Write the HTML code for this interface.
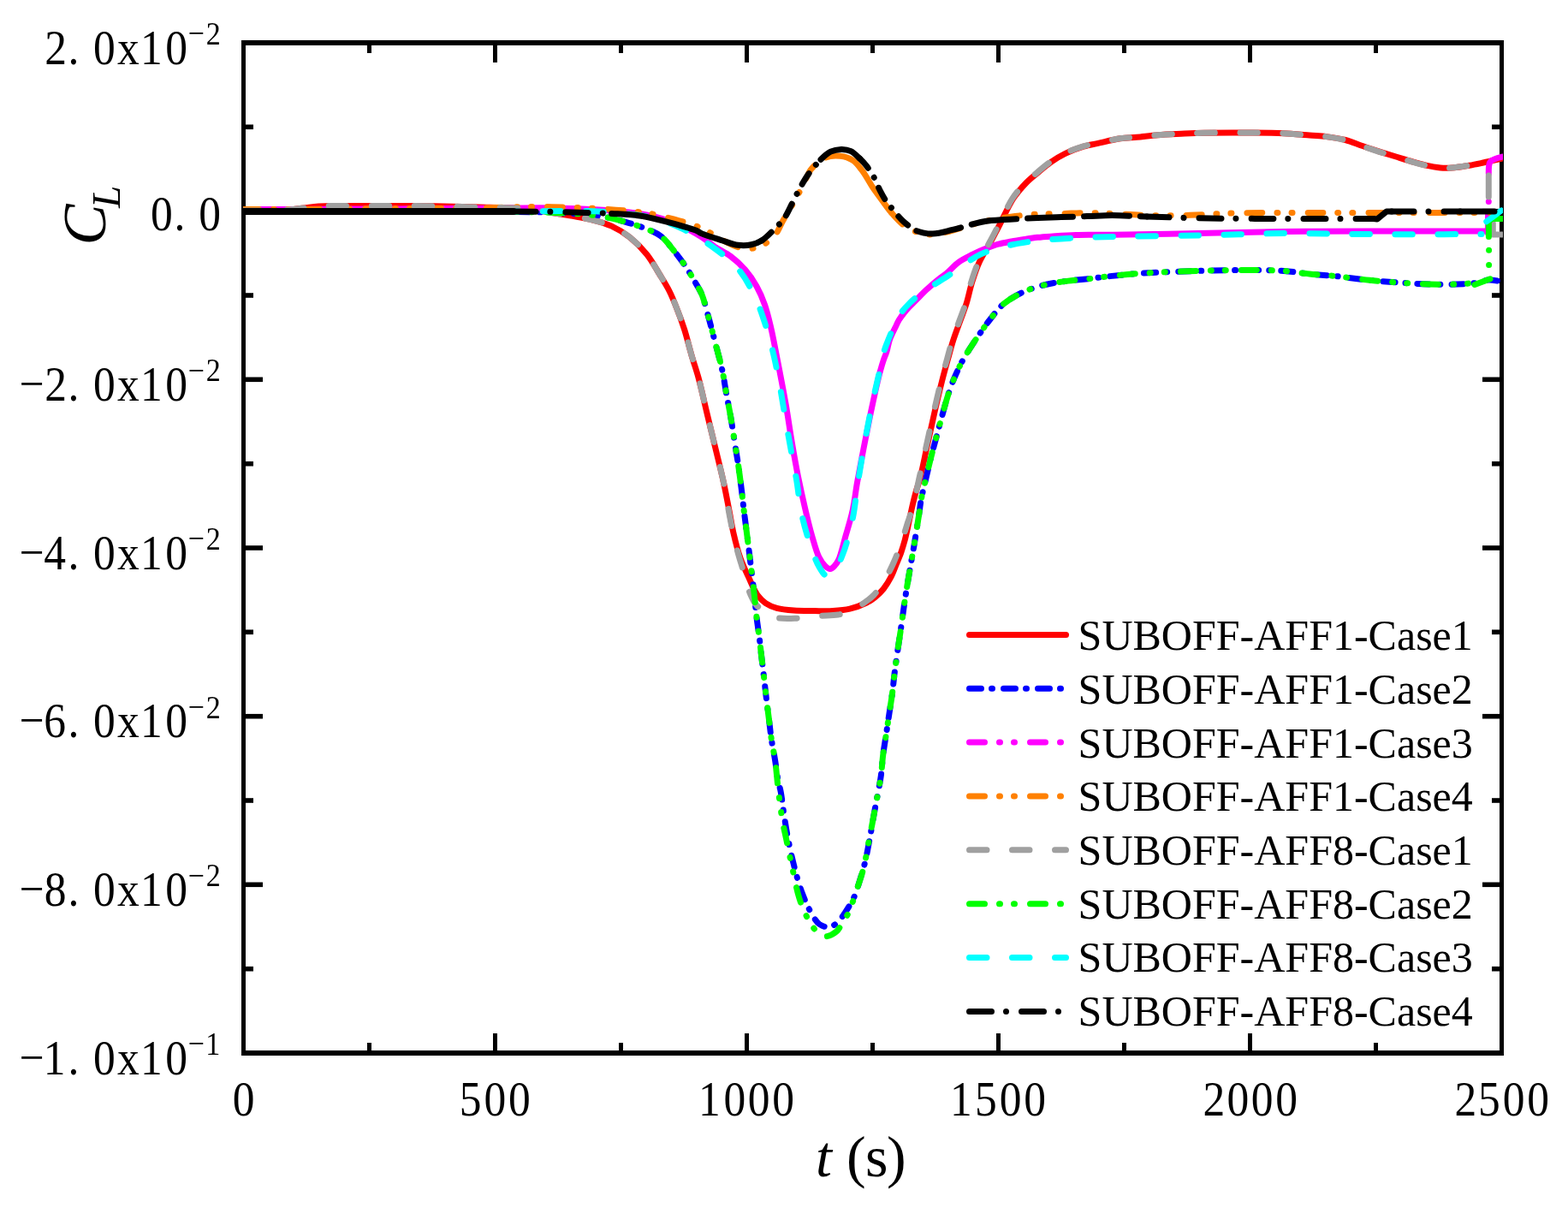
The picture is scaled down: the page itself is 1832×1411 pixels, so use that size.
<!DOCTYPE html><html><head><meta charset="utf-8"><title>C_L vs t</title><style>html,body{margin:0;padding:0;background:#fff;}svg{display:block}</style></head><body>
<svg width="1832" height="1411" viewBox="0 0 1832 1411">
<rect width="1832" height="1411" fill="#fff"/>
<defs><clipPath id="pa"><rect x="284" y="53" width="1472" height="1174"/></clipPath></defs>
<g fill="#000">
<rect x="282" y="47" width="1475" height="6"/>
<rect x="282" y="1227" width="1475" height="6"/>
<rect x="282" y="47" width="5" height="1186"/>
<rect x="1752" y="47" width="5" height="1186"/>
<rect x="287" y="47.2" width="20" height="5.6"/>
<rect x="1732" y="47.2" width="20" height="5.6"/>
<rect x="287" y="145.5" width="9" height="5.6"/>
<rect x="1743" y="145.5" width="9" height="5.6"/>
<rect x="287" y="243.9" width="20" height="5.6"/>
<rect x="1732" y="243.9" width="20" height="5.6"/>
<rect x="287" y="342.2" width="9" height="5.6"/>
<rect x="1743" y="342.2" width="9" height="5.6"/>
<rect x="287" y="440.5" width="20" height="5.6"/>
<rect x="1732" y="440.5" width="20" height="5.6"/>
<rect x="287" y="538.9" width="9" height="5.6"/>
<rect x="1743" y="538.9" width="9" height="5.6"/>
<rect x="287" y="637.2" width="20" height="5.6"/>
<rect x="1732" y="637.2" width="20" height="5.6"/>
<rect x="287" y="735.5" width="9" height="5.6"/>
<rect x="1743" y="735.5" width="9" height="5.6"/>
<rect x="287" y="833.9" width="20" height="5.6"/>
<rect x="1732" y="833.9" width="20" height="5.6"/>
<rect x="287" y="932.2" width="9" height="5.6"/>
<rect x="1743" y="932.2" width="9" height="5.6"/>
<rect x="287" y="1030.5" width="20" height="5.6"/>
<rect x="1732" y="1030.5" width="20" height="5.6"/>
<rect x="287" y="1128.9" width="9" height="5.6"/>
<rect x="1743" y="1128.9" width="9" height="5.6"/>
<rect x="287" y="1227.2" width="20" height="5.6"/>
<rect x="1732" y="1227.2" width="20" height="5.6"/>
<rect x="282" y="1207" width="5" height="20"/>
<rect x="282" y="53" width="5" height="20"/>
<rect x="429" y="1218" width="5" height="9"/>
<rect x="429" y="53" width="5" height="9"/>
<rect x="576" y="1207" width="5" height="20"/>
<rect x="576" y="53" width="5" height="20"/>
<rect x="723" y="1218" width="5" height="9"/>
<rect x="723" y="53" width="5" height="9"/>
<rect x="870" y="1207" width="5" height="20"/>
<rect x="870" y="53" width="5" height="20"/>
<rect x="1017" y="1218" width="5" height="9"/>
<rect x="1017" y="53" width="5" height="9"/>
<rect x="1164" y="1207" width="5" height="20"/>
<rect x="1164" y="53" width="5" height="20"/>
<rect x="1311" y="1218" width="5" height="9"/>
<rect x="1311" y="53" width="5" height="9"/>
<rect x="1458" y="1207" width="5" height="20"/>
<rect x="1458" y="53" width="5" height="20"/>
<rect x="1605" y="1218" width="5" height="9"/>
<rect x="1605" y="53" width="5" height="9"/>
<rect x="1752" y="1207" width="5" height="20"/>
<rect x="1752" y="53" width="5" height="20"/>
</g>
<g clip-path="url(#pa)" fill="none" stroke-width="7" stroke-linecap="round" stroke-linejoin="round">
<path d="M284.5 246C299.7 245.8 317.1 246.2 330 245.5C339.6 245 347.5 243.8 355 243C361.2 242.3 365.6 241.4 372 241C380.2 240.4 389.8 240.6 400 240.5C412.1 240.4 426.7 240.5 440 240.5C453.3 240.5 466.7 240.4 480 240.5C493.3 240.6 506.7 240.8 520 241C533.3 241.3 546.7 241.7 560 242C573.3 242.3 588.2 242.3 600 243C609.3 243.6 616.7 244.5 625 245.5C633.3 246.6 640.6 247.7 650 249.3C662.1 251.3 680 253.9 691.7 256.8C700.6 259 707.3 260.8 714.6 264.2C722 267.6 729.2 272 735.9 277.3C742.9 282.9 749.8 289.9 755.6 297C761.3 304.1 765.8 312.5 770.3 319.9C774.4 326.6 778.3 332.6 781.8 339.5C785.5 346.7 788.6 354.8 791.6 362.5C794.6 370.1 797.2 377.2 799.8 385.4C802.7 394.6 805.2 405.4 808 414.9C810.6 423.9 813.3 431.3 816 441C819.3 453.1 822.5 468.3 825.8 481.9C829.1 495.5 832.4 509.2 835.7 522.8C839 536.4 842.7 550.8 845.5 563.7C848 575.2 850 586.2 852 596.5C853.8 605.7 854.9 613.8 857 622.7C859.2 632.3 861.9 643.1 865.1 652.2C868 660.4 871.6 667.8 875 675.1C878.2 682 881.1 689.6 884.8 694.8C887.8 698.9 890.8 702 894.6 704.6C898.4 707.2 902.8 709 907.7 710.4C913.5 712 920.5 712.6 927.4 713.1C935.1 713.7 944 713.5 951.9 713.6C959.2 713.7 966.3 714 973.2 713.6C979.9 713.2 986.4 712.8 992.9 711.2C999.5 709.6 1007.2 706.6 1012.5 704C1016.4 702.1 1018.9 700.5 1022 698C1025.6 695.1 1029.4 691.5 1032.5 687.5C1035.8 683.3 1038.8 678.2 1041.3 673.4C1043.7 668.8 1045.3 663.9 1047.2 659.2C1049.1 654.5 1051.2 649.8 1052.9 645C1054.5 640.3 1055.9 635.6 1057.2 630.9C1058.5 626.2 1059.4 621.4 1060.5 616.7C1061.5 612 1062.5 607.2 1063.5 602.5C1064.5 597.8 1065.5 593 1066.6 588.3C1067.7 583.6 1068.9 578.9 1070.2 574.2C1071.6 569.3 1073.2 565.5 1074.8 559.3C1077.4 549.4 1080.5 533.3 1083.4 520.3C1086.3 507.3 1089.1 494 1092 481.3C1094.8 469.1 1097.7 456.5 1100.5 445.5C1102.9 436 1105.3 427.4 1107.6 419.1C1109.7 411.6 1111.3 404.9 1113.6 397.8C1115.9 390.7 1118.6 383.6 1121.2 376.5C1123.7 369.4 1126.5 362.8 1128.9 355.3C1131.5 347.1 1133.2 337.4 1135.9 329C1138.4 321 1140.8 313.5 1144.3 306C1147.9 298.2 1153.2 290.3 1157.2 283C1160.8 276.4 1163.4 271.2 1167.2 264C1172.1 254.7 1178.1 240.7 1184 231.7C1188.7 224.5 1193.8 218.9 1198.8 213.7C1203.1 209.2 1207.2 206.1 1211.9 202.2C1217 197.9 1222.6 193 1228.2 189.1C1233.5 185.4 1238.6 182.2 1244.6 179.3C1251.1 176.1 1259.2 173.1 1265.9 171.1C1271.5 169.4 1275.8 168.9 1281.8 167.6C1289.7 165.9 1300.8 163 1309.1 161.8C1316 160.8 1321.4 160.8 1328.2 160.2C1335.9 159.5 1344.4 158.3 1352.8 157.7C1361.6 157 1370.9 156.7 1380 156.3C1389 155.9 1396.8 155.5 1407 155.3C1420.5 155 1438.4 154.9 1454 155C1469.4 155.1 1486.3 155 1500 155.7C1511.1 156.2 1521 157.4 1530 158.1C1537.3 158.7 1543.2 158.7 1550 159.6C1557.2 160.5 1564.9 161.6 1572 163.5C1578.9 165.3 1585.4 168.3 1592 170.5C1598.4 172.7 1604.6 174.7 1611 176.8C1617.6 178.9 1624.2 180.9 1631 183C1637.9 185.1 1645.3 187.4 1652 189.3C1658.2 191 1664.1 192.7 1670 193.9C1675.5 195 1680.7 196 1686 196.3C1691.2 196.6 1696.3 196 1701.5 195.5C1706.7 195 1711.8 194.1 1717 193.2C1722.3 192.3 1727.3 191.2 1733 190C1739.8 188.6 1747.7 186.7 1755 185" stroke="#FF0000"/>
<path d="M284.5 247C323 247 362.9 247 400 247C434.5 247 466.7 246.9 500 247C533.3 247.1 572.4 247.2 600 247.5C619.5 247.7 633.5 247.7 650 248.5C666.2 249.3 683.7 249.9 698.2 252C710.3 253.8 720.9 256.5 731 259.3C739.9 261.8 748.3 264.5 755.6 267.5C761.7 270 767 271.9 772 275.7C777.5 279.9 781.9 286.2 786.7 292C791.7 298.1 797.1 305.3 801.4 311.7C805.2 317.3 808.1 322.6 811.2 328C814.3 333.3 817.5 337.9 820 344C823 351.3 824.9 360.2 827.4 369C830.2 378.9 833 390 835.7 400.6C838.5 411.3 841.7 422.3 843.9 432.7C846 442.3 847.1 451.5 848.8 460.6C850.4 469.5 852.1 477.7 853.7 486.8C855.4 496.7 857 508 858.6 517.9C860 527 861.5 535.5 862.7 544.1C863.9 552.4 864.9 560.2 866 568.7C867.1 577.7 868 586.4 869.2 596.5C870.7 608.5 872.6 623.3 874.2 635.8C875.6 647.2 876.9 658.1 878.2 668.6C879.4 678.2 880.5 687.4 881.5 696.4C882.4 704.8 883 712.8 884 721C885 729.2 886.3 737.7 887.3 745.6C888.2 752.9 888.9 759.9 889.7 766.8C890.5 773.4 891.2 778.9 892 786C893 794.9 894.3 806.6 895.4 816C896.4 824.4 897.4 832 898.4 840C899.4 848 900.2 856 901.4 864C902.6 872 904.3 880.1 905.6 888.1C906.9 896.1 907.9 905.3 909.2 912.1C910.2 917.2 911.3 920.1 912.3 925.4C913.7 933 914.8 944.1 916.3 953.7C917.9 963.8 919.6 974.4 921.7 984.6C923.7 994.6 926 1004.6 928.5 1014.2C930.9 1023.4 933.2 1032.3 936.5 1041.2C939.9 1050.3 944.6 1061.2 948.7 1068.1C951.6 1072.9 954 1077 957.4 1079.5C960.4 1081.6 964.2 1083 967.5 1082.9C970.7 1082.8 974 1081.2 977 1078.9C980.9 1076 984.3 1070.4 987.7 1065.4C991.5 1059.8 995.7 1052.7 998.5 1046.5C1000.9 1041 1002.1 1036.3 1003.9 1030.4C1006.1 1023.5 1008.6 1015.5 1010.6 1007.5C1012.7 998.9 1014.3 989.6 1016 980.6C1017.7 971.6 1019.1 962.6 1020.7 953.7C1022.2 945.1 1023.9 936.3 1025.4 928.1C1026.8 920.5 1028.3 913.6 1029.3 906.1C1030.4 898.3 1030.7 890.1 1031.7 882.1C1032.7 874.1 1034.1 866.1 1035.3 858.1C1036.5 850.1 1037.7 842 1038.9 834C1040.1 826 1041.4 818.2 1042.5 810C1043.6 801.4 1044.4 792 1045.5 783.6C1046.5 776 1047.4 769.6 1048.5 761.9C1049.7 753.2 1051.3 743.5 1052.6 734.1C1054 724.4 1055.2 714.9 1056.7 704.6C1058.4 693.2 1060.5 680.3 1062.5 668.6C1064.4 657.4 1066.3 647 1068.2 635.8C1070.1 624.1 1072.4 609.6 1073.9 599.8C1074.9 593 1075.2 588.7 1076.4 582.6C1077.8 575.4 1080 567.1 1081.8 559.3C1083.6 551.5 1085.4 543.7 1087.3 535.9C1089.3 528.1 1091.4 520.3 1093.5 512.5C1095.6 504.7 1097.6 497 1099.8 489.1C1102.1 480.9 1104.3 472.2 1106.8 464.2C1109.2 456.6 1111.6 449.5 1114.6 442.4C1117.5 435.3 1121 428 1124.5 421.5C1127.8 415.5 1131.3 410.1 1134.8 404.6C1138.2 399.3 1141.5 394.4 1145 389.3C1148.6 384.2 1152 379.2 1156.1 374C1160.8 368.1 1165.7 360.9 1171.9 355.6C1178.5 350 1186.7 345.2 1194.9 341.4C1203.2 337.5 1212.5 334.7 1221.5 332.5C1230.3 330.3 1239.2 329.3 1248.1 328.1C1256.9 326.9 1267.1 326.3 1274.7 325.4C1280.5 324.7 1283.7 324.1 1290 323.4C1300.2 322.2 1314.8 320.6 1330 319.5C1350.1 318.1 1378.6 317 1400 316.4C1418.1 315.9 1433.3 315.6 1450 315.6C1466.7 315.6 1485.5 315.4 1500 316.4C1511.3 317.2 1519.9 319 1530 320C1540.2 321 1550.1 321.5 1561 322.6C1573.3 323.9 1587 326 1600 327.3C1613 328.6 1626.7 329.6 1639 330.4C1649.9 331.1 1659.6 331.7 1670 332C1680.5 332.3 1691.8 332.3 1701.5 332C1709.9 331.7 1718.2 331.4 1725 330.4C1730.3 329.6 1734.1 327.3 1739 327C1744.1 326.7 1749.7 328.2 1755 328.8" stroke="#0000FF" stroke-dasharray="14 12 1 13"/>
<path d="M284.5 244.5C303 244.5 321.1 244.6 340 244.5C359.6 244.4 380 244.1 400 244C420 243.9 440 244.1 460 244C480 243.9 498.6 243.7 520 243.5C544.8 243.3 576.5 243.1 600 243C618.6 242.9 633.3 242.7 650 243C666.7 243.3 685.5 244.1 700 245C711.3 245.7 719.7 246.3 730 247.5C740.9 248.8 752.7 249.9 763.7 252.7C774.8 255.5 786.6 259.8 796.5 264.2C805.2 268 813.1 272.6 820 277C825.9 280.8 830.2 284.9 835.7 288.6C841.4 292.4 848 295.1 853.7 299.4C859.7 303.9 865.6 309.3 870.6 315.1C875.7 320.9 880.1 327.5 883.9 334.3C887.7 341.1 890.8 348.3 893.5 356C896.4 364.3 898.4 372.9 900.7 382.5C903.3 393.6 905.4 405.4 908 418.7C911.2 435.1 915.4 456.7 918.4 473.7C920.9 488.3 922.6 501 924.9 514.6C927.2 528.3 929.6 542.2 932.3 555.6C934.9 568.5 937.7 581.2 940.5 593.3C943.1 604.6 945.8 615.9 948.7 626C951.3 634.8 953.7 644.3 956.8 650.6C959 655 961.4 658.6 964 661C965.9 662.8 968.1 664.6 970 664.5C971.8 664.4 973.5 662.5 975 661C976.8 659.2 978.2 657.2 979.8 653.9C982.7 647.8 985.3 635.4 988 626C990.8 616.3 993.9 606.7 996.1 596.5C998.4 585.9 999.5 575.2 1001.5 563.7C1003.8 550.8 1006.6 536.4 1009.2 522.8C1011.9 509.2 1014.5 495.8 1017.4 481.9C1020.5 467.4 1024.3 449.3 1027.3 437.7C1029.3 430.1 1031.1 424 1032.8 419.1C1033.9 415.8 1034.9 414.1 1035.9 411C1037.2 407 1037.8 401.6 1039.4 397C1041.1 392.1 1044 386.7 1046 382.5C1047.6 379.2 1048.7 376.5 1050.3 373.8C1051.9 371.2 1053.6 368.9 1055.5 366.5C1057.5 364 1059.8 361.4 1062 359C1064.2 356.6 1066.5 354.3 1068.6 352.2C1070.4 350.4 1071.7 349.1 1073.6 347.2C1075.9 344.9 1078.9 341.8 1081.5 339.3C1083.9 337 1086.1 335.1 1088.6 332.9C1091.3 330.6 1094.3 328.1 1097.2 325.8C1100 323.6 1102.5 322 1105.7 319.4C1110 315.8 1115.4 309.6 1120.6 305.9C1125.5 302.4 1130.8 300 1135.9 297.4C1140.9 294.9 1146 292.6 1151.1 290.6C1156.2 288.6 1161.3 286.6 1166.4 285.2C1171.5 283.8 1176.6 283 1181.7 282C1186.8 281.1 1191.9 280.3 1197 279.5C1202.1 278.7 1207 277.9 1212.3 277.3C1218 276.7 1223.5 276.4 1230 276C1238.1 275.5 1247 274.9 1257 274.6C1269.7 274.2 1282.7 274.4 1300 274.2C1326.4 273.9 1366.7 273.1 1400 272.5C1433.3 271.9 1466.7 270.8 1500 270.4C1533.3 270 1564 270.1 1600 270C1642.1 269.9 1691.3 270 1737 270" stroke="#FF00FF"/>
<path d="M1756 183C1750 184.5 1745 185.5 1741.5 188.5C1739.5 190.5 1739.3 195 1739.3 203" stroke="#FF00FF"/>
<path d="M1739.3 235.5h0.01M1738.6 251V272.5" stroke="#FF00FF"/>
<path d="M284.5 244.5C306.3 244.5 325.9 244.6 350 244.5C379.8 244.4 416.7 243.8 450 243.5C483.3 243.3 519.6 243.4 550 243C575.4 242.7 599.9 241.6 620 241.5C635.2 241.4 646.3 241.6 660 242C674.6 242.4 691.5 243.1 705 244C716 244.7 725.5 245.5 735 246.5C743.7 247.4 751.6 248 760 249.5C768.9 251.1 778.2 253.6 787 256C795.5 258.3 804.4 260.6 812 263.5C818.6 266 824.3 269 830 272C835.3 274.8 839.7 278.3 845 281C850.5 283.8 856.6 287.1 862.2 288.6C867.1 290 871.9 290.7 876.6 290.4C881.2 290.1 885.6 288.8 889.9 286.7C894.8 284.4 900.3 281 904.3 276.5C908.7 271.6 911.2 264 914.8 257.7C918.5 251.3 922.4 245.1 926.2 238.4C930.3 231.2 934.8 223 938.6 215.8C941.9 209.4 943.5 202.8 947.7 197.6C952.1 192.2 958.6 186.5 964.7 184" stroke="#FF8000" stroke-dasharray="18 17 1 16 1 18"/>
<path d="M964.7 184C970.1 181.8 976.3 181.7 981.7 182.3C986.9 182.9 992.2 184.6 996.5 187.4C1001 190.3 1004.2 195.2 1007.8 199.9C1011.8 205.2 1015.2 212.2 1019.1 218C1022.8 223.5 1026.7 228.7 1030.5 233.9C1034.3 239 1037.8 244.2 1042 249" stroke="#FF8000"/>
<path d="M1042 249C1046.3 253.9 1050.7 259.2 1056 263C1061.3 266.9 1068 270.2 1074 272C1079.4 273.6 1084.4 274.2 1090 274C1096.3 273.8 1103 271.7 1110 270C1117.9 268 1126.6 264.8 1135 262.5C1143.3 260.3 1151.6 258.2 1160 256.5C1168.5 254.8 1177.2 253.6 1186 252.5C1194.9 251.4 1204 250.5 1213 250C1222 249.5 1230.8 249.7 1240 249.5C1249.5 249.3 1259.2 248.6 1269 248.6C1279.2 248.6 1289 249.1 1300 249.5C1312.5 250 1325.9 251.2 1340 251.5C1355.7 251.9 1373.3 251.7 1390 251.3C1406.7 250.9 1420.5 249.5 1440 249C1467.6 248.3 1505.9 248.6 1540 248.5C1575.8 248.4 1614.7 248.5 1650 248.5C1682.8 248.5 1713.3 248.5 1745 248.5" stroke="#FF8000" stroke-dasharray="18 17 1 16 1 18"/>
<path d="M284.5 246C299.7 245.8 317.1 246.2 330 245.5C339.6 245 347.5 243.8 355 243C361.2 242.3 365.6 241.4 372 241C380.2 240.4 389.8 240.6 400 240.5C412.1 240.4 426.7 240.5 440 240.5C453.3 240.5 466.7 240.4 480 240.5C493.3 240.6 506.7 240.8 520 241C533.3 241.3 546.7 241.7 560 242C573.3 242.3 588.2 242.3 600 243C609.3 243.6 616.7 244.5 625 245.5C633.3 246.6 640.6 247.7 650 249.3C662.1 251.3 680 253.9 691.7 256.8C700.6 259 707.3 260.8 714.6 264.2C722 267.6 729.2 272 735.9 277.3C742.9 282.9 749.8 289.9 755.6 297C761.3 304.1 765.8 312.5 770.3 319.9C774.4 326.6 778.3 332.6 781.8 339.5C785.5 346.7 788.6 354.8 791.6 362.5C794.6 370.1 797.2 377.2 799.8 385.4C802.7 394.6 805.2 405.4 808 414.9C810.6 423.9 813.3 431.3 816 441C819.3 453.1 822.5 468.3 825.8 481.9C829.1 495.5 832.4 509.2 835.7 522.8C839 536.4 842.7 550.4 845.5 563.7C848.1 576.1 849.9 589 852 600C853.7 609.1 855.2 617.2 857 625C858.6 632.1 860.1 638 862 645C864.1 652.7 867 661.7 869.2 669.3C871.2 676.1 872.8 683.3 874.6 688.5C875.9 692.3 877.1 695.1 878.5 698C879.7 700.6 880.7 702.9 882.4 705.2C884.4 707.8 887.4 710.2 890 712.6C892.6 714.9 895.1 717.8 898.1 719.3C901.1 720.8 904.1 721.3 908 721.8C913.6 722.6 921.1 722.6 928.5 722.3C937.1 722 947.7 720.2 956.5 719.5C964.4 718.8 972.4 719.1 979 718C984.3 717.1 988.8 715.7 993 714C996.7 712.5 999.8 710.5 1003 708.5C1006.3 706.5 1009.5 704.3 1012.5 702C1015.5 699.8 1018 698.2 1021 695C1025.5 690.1 1031.4 681 1035.5 674C1039.3 667.6 1042.1 661.7 1045 655C1048.1 647.9 1050.9 639.9 1053.5 632.6C1055.9 625.6 1057.9 618.7 1060 612C1062 605.7 1064 600.8 1066 593.7C1068.7 584.1 1071.2 571.1 1073.8 559.3C1076.6 546.7 1079.5 533.3 1082.4 520.3C1085.3 507.3 1088.1 494 1091 481.3C1093.8 469.1 1096.7 456.5 1099.5 445.5C1101.9 436 1104.3 427.4 1106.6 419.1C1108.7 411.6 1110.3 404.9 1112.6 397.8C1114.9 390.7 1117.6 383.6 1120.2 376.5C1122.7 369.4 1125.5 362.8 1127.9 355.3C1130.5 347.1 1132.2 337.4 1134.9 329C1137.4 321 1139.8 313.5 1143.3 306C1146.9 298.2 1152.2 290.3 1156.2 283C1159.8 276.4 1162.4 271.2 1166.2 264C1171.1 254.7 1177.1 240.7 1183 231.7C1187.7 224.5 1192.8 218.9 1197.8 213.7C1202.1 209.2 1206.2 206.1 1210.9 202.2C1216 197.9 1221.6 193 1227.2 189.1C1232.5 185.4 1237.6 182.2 1243.6 179.3C1250.1 176.1 1258.2 173.1 1264.9 171.1C1270.5 169.4 1274.8 168.9 1280.8 167.6C1288.7 165.9 1299.8 163 1308.1 161.8C1315 160.8 1320.4 160.8 1327.2 160.2C1334.9 159.5 1343.4 158.3 1351.8 157.7C1360.6 157 1369.9 156.7 1379 156.3C1388 155.9 1395.8 155.5 1406 155.3C1419.5 155 1437.4 154.9 1453 155C1468.4 155.1 1485.3 155 1499 155.7C1510.1 156.2 1520 157.4 1529 158.1C1536.3 158.7 1542.2 158.7 1549 159.6C1556.2 160.5 1563.9 161.6 1571 163.5C1577.9 165.3 1584.4 168.3 1591 170.5C1597.4 172.7 1603.6 174.7 1610 176.8C1616.6 178.9 1623.2 180.9 1630 183C1636.9 185.1 1644.3 187.4 1651 189.3C1657.2 191 1663.1 192.7 1669 193.9C1674.5 195 1679.7 196 1685 196.3C1690.2 196.6 1695.3 196 1700.5 195.5C1705.7 195 1710.8 194.1 1716 193.2C1721.3 192.3 1728.4 190.1 1732 190C1733.8 189.9 1734.7 190.3 1736 190.5" stroke="#A0A0A0" stroke-dasharray="20.5 29.5"/>
<path d="M1739.3 205V230M1744.3 261V274H1756" stroke="#A0A0A0"/>
<path d="M284.5 247C323 247 362.9 247 400 247C434.5 247 466.7 246.9 500 247C533.3 247.1 572.4 247.2 600 247.5C619.5 247.7 633.5 247.7 650 248.5C666.2 249.3 683.7 249.9 698.2 252C710.3 253.8 720.9 256.5 731 259.3C739.9 261.8 748.3 264.5 755.6 267.5C761.7 270 767 271.9 772 275.7C777.5 279.9 781.9 286.2 786.7 292C791.7 298.1 797.1 305.3 801.4 311.7C805.2 317.3 808.1 322.6 811.2 328C814.3 333.3 817.5 337.9 820 344C823 351.3 824.9 360.2 827.4 369C830.2 378.9 833 390 835.7 400.6C838.5 411.3 841.7 422.3 843.9 432.7C846 442.3 847.1 451.5 848.8 460.6C850.4 469.5 852.1 477.7 853.7 486.8C855.4 496.7 857 508 858.6 517.9C860 527 861.5 535.5 862.7 544.1C863.9 552.4 864.9 560.2 866 568.7C867.1 577.7 868 586.4 869.2 596.5C870.7 608.5 872.6 623.3 874.2 635.8C875.6 647.2 876.9 658.1 878.2 668.6C879.4 678.2 880.5 687.4 881.5 696.4C882.4 704.8 883 712.8 884 721C885 729.2 886.3 737.7 887.3 745.6C888.2 752.9 888.9 759.9 889.7 766.8C890.5 773.4 891.2 778.9 892 786C893 794.9 894.3 806.6 895.4 816C896.4 824.4 897.4 832 898.4 840C899.4 848 900.2 856 901.4 864C902.6 872 904.3 879.2 905.6 888.1C907.2 899.2 908.1 913.3 909.6 925.4C911 936.9 912.6 948.9 914.3 959C915.7 967.4 917.3 973.6 919 981.9C921 991.7 923.4 1003.2 925.8 1014.2C928.3 1025.6 930.6 1038.9 933.9 1049.2C936.6 1057.8 939.8 1065.5 943.3 1072.1C946.2 1077.6 949 1082.6 952.7 1086.3C956 1089.6 960.1 1093.3 964.1 1093.7C968.2 1094.1 973.7 1091 977 1088.3C980 1085.9 981.4 1082.4 983.7 1078.9C986.3 1074.9 989.2 1070.8 991.7 1065.4C995.1 1058.1 998.2 1047.4 1001.2 1038.5C1004.1 1029.9 1006.9 1022.2 1009.2 1012.9C1011.9 1002.2 1013.9 988.5 1016 977.9C1017.7 969.1 1019.2 961.9 1020.7 953.7C1022.3 945.3 1023.9 936.3 1025.4 928.1C1026.8 920.5 1028.3 913.6 1029.3 906.1C1030.4 898.3 1030.7 890.1 1031.7 882.1C1032.7 874.1 1034.1 866.1 1035.3 858.1C1036.5 850.1 1037.7 842 1038.9 834C1040.1 826 1041.4 818.2 1042.5 810C1043.6 801.4 1044.4 792 1045.5 783.6C1046.5 776 1047.4 769.6 1048.5 761.9C1049.7 753.2 1051.3 743.5 1052.6 734.1C1054 724.4 1055.2 714.9 1056.7 704.6C1058.4 693.2 1060.5 680.3 1062.5 668.6C1064.4 657.4 1066.3 647 1068.2 635.8C1070.1 624.1 1072.4 609.6 1073.9 599.8C1074.9 593 1075.2 588.7 1076.4 582.6C1077.8 575.4 1080 567.1 1081.8 559.3C1083.6 551.5 1085.4 543.7 1087.3 535.9C1089.3 528.1 1091.4 520.3 1093.5 512.5C1095.6 504.7 1097.6 497 1099.8 489.1C1102.1 480.9 1104.3 472.2 1106.8 464.2C1109.2 456.6 1111.6 449.5 1114.6 442.4C1117.5 435.3 1121 428 1124.5 421.5C1127.8 415.5 1131.3 410.1 1134.8 404.6C1138.2 399.3 1141.5 394.4 1145 389.3C1148.6 384.2 1152 379.2 1156.1 374C1160.8 368.1 1165.7 360.9 1171.9 355.6C1178.5 350 1186.7 345.2 1194.9 341.4C1203.2 337.5 1212.5 334.7 1221.5 332.5C1230.3 330.3 1239.2 329.3 1248.1 328.1C1256.9 326.9 1267.1 326.3 1274.7 325.4C1280.5 324.7 1283.7 324.1 1290 323.4C1300.2 322.2 1314.8 320.6 1330 319.5C1350.1 318.1 1378.6 317 1400 316.4C1418.1 315.9 1433.3 315.6 1450 315.6C1466.7 315.6 1485.5 315.4 1500 316.4C1511.3 317.2 1519.9 319 1530 320C1540.2 321 1550.1 321.5 1561 322.6C1573.3 323.9 1587 326 1600 327.3C1613 328.6 1626.7 329.6 1639 330.4C1649.9 331.1 1659.6 331.7 1670 332C1680.5 332.3 1691.8 332.3 1701.5 332C1709.9 331.7 1717.2 330.9 1725 330.4" stroke="#00FF00" stroke-dasharray="18 17 1 16 1 18"/>
<path d="M1723 332.5L1741 325.8M1739.6 309.6h0.01M1739.6 292.2h0.01M1739.4 276.5V258.5L1743 255.5H1756" stroke="#00FF00"/>
<path d="M284.5 247C323 247 362.9 247 400 247C434.5 247 466.7 247 500 247C533.3 247 566.7 247 600 247C633.3 247 675.2 245.9 700 247C714.7 247.6 724 248.6 735 250C744.9 251.2 753.4 252 763 254.5C773.7 257.3 784.8 261.2 796 266.5C808.6 272.5 823 281.4 834.5 289.8C844.9 297.4 854.4 304.7 862.2 313.9C870 323.1 876 334 881.4 345.2C887.1 356.8 891.4 370.3 895.3 382.5C898.9 394 901.7 405 904.3 416.3C906.9 427.5 908.7 437.7 911 450C913.7 464.6 916.7 483.8 919.2 498.2C921.3 509.9 923.1 519.5 925 530C926.9 540.3 928.7 549.5 930.6 560.5C932.8 573.5 934.1 589.3 937.2 603.1C940.2 616.6 944.9 631.6 948.7 642.4C951.5 650.2 953.9 656.7 957 662C959.4 666.1 961.9 671.3 965 672C967.7 672.7 971.3 670.6 974 668C978.2 664 981.5 655.6 984.7 647.3C989.1 636.1 993.2 620 996.1 606.4C998.9 593.2 999.8 580.5 1001.9 567C1004.1 552.7 1006.5 538 1009.2 522.8C1012.1 506.4 1015.5 488.9 1019 472C1022.6 455.1 1028.1 432.1 1030.5 421.3C1031.6 416.2 1031.9 413.7 1033 410C1034.1 406.3 1035.5 402.9 1037 399C1038.8 394.3 1041.1 388.9 1043.4 383.8C1045.8 378.6 1047.9 372.8 1051 368C1054.1 363.2 1058 358.9 1062 354.9C1065.9 350.9 1070.2 347.3 1074.5 344C1078.7 340.8 1082.5 338.5 1087.4 335.2C1093.7 331 1101.1 326.4 1109.3 321C1119.8 314.1 1133.4 303 1145 297.4C1154.7 292.7 1163.8 290.4 1173.3 287.9C1182.7 285.5 1192.6 283.9 1201.6 282.5C1209.8 281.3 1216.5 280.7 1225.3 279.9C1236.2 279 1249.7 278.2 1262 277.6C1274.6 277 1284.3 276.8 1300 276.4C1325.4 275.8 1366.7 275.6 1400 275C1433.3 274.4 1466.7 272.8 1500 272.6C1533.3 272.4 1564.4 273.4 1600 273.6C1640.7 273.8 1687.3 273.6 1731 273.6" stroke="#00FFFF" stroke-dasharray="20.5 29.5"/>
<path d="M1736.8 258.8L1754 246" stroke="#00FFFF"/>
<path d="M284.5 247C323 247 362.9 247 400 247C434.5 247 466.7 247 500 247C533.3 247 572.4 246.9 600 247" stroke="#000000" stroke-width="8"/>
<path d="M600 247C619.5 247.1 632.3 247.1 650 247.5C670.2 247.9 696.7 248.5 714.6 249.5" stroke="#000000" stroke-dasharray="26 17 0.01 18"/>
<path d="M714.6 249.5C727.4 250.2 736.5 250.4 747.4 252C758.3 253.6 769.2 256.5 780 259.3C791 262.2 806 266.3 812.9 269.1C816.2 270.5 816.9 271.5 820 272.9C825.6 275.3 836.6 278.6 844.1 281C850.5 283 856.3 285.6 862.2 286.3C867.5 287 873 286.8 877.8 285.8C882.2 284.9 885.9 283.5 889.9 281" stroke="#000000"/>
<path d="M889.9 281C894.8 278 899.8 272.6 904.3 268.1C908.6 263.8 912.7 260.1 916.4 254.8C920.9 248.4 924.7 238.7 928.4 231.6C931.6 225.5 934.5 219.8 937.5 214.6C940.1 210.1 942.2 206.5 945.4 202.2C949.2 197.1 954.5 190.7 959 186.3" stroke="#000000" stroke-dasharray="15 13 0.01 13"/>
<path d="M959 186.3C962.8 182.6 966.3 179.2 970.4 177.2C974.3 175.3 978.8 174.5 982.9 174.4C986.8 174.3 990.7 174.9 994.2 176.6C997.9 178.4 1001.3 182.2 1004.4 185.1" stroke="#000000"/>
<path d="M1004.4 185.1C1007.3 187.9 1009.8 190.5 1012.3 193.7C1015.1 197.3 1017.8 201.2 1020.3 205.6C1023.2 210.7 1025.4 217.3 1028.2 222.6C1030.7 227.4 1033.4 232.4 1036.1 236.2C1038.2 239.2 1040 241 1042.5 243.9C1045.9 247.9 1050.2 253.9 1054.9 258.1C1059.7 262.4 1065 267.1 1070.9 269.6" stroke="#000000" stroke-dasharray="15 13 0.01 13"/>
<path d="M1070.9 269.6C1076.7 272.1 1083.4 273.1 1090 273C1097.3 272.9 1105.3 270.2 1112.9 268.4C1120.6 266.6 1129 263.8 1135.9 262C1141.4 260.6 1145.4 259.4 1151 258.5C1157.8 257.4 1166.7 257 1174 256.5C1180.6 256 1186.6 255.8 1193 255.5C1199.5 255.2 1205.6 254.8 1212.7 254.5C1221.1 254.2 1230.7 253.9 1240 253.6C1249.8 253.3 1260 252.9 1270 252.6C1279.9 252.3 1288.9 251.6 1299.5 251.6C1311.9 251.6 1325.2 252.5 1340 253" stroke="#000000" stroke-dasharray="53 13"/>
<path d="M1340 253C1358 253.6 1380.9 254.4 1400 254.8C1417.4 255.1 1433.3 255.2 1450 255.3C1466.7 255.4 1480.3 255.5 1500 255.5C1528.6 255.6 1570 255.5 1605 255.5" stroke="#000000" stroke-dasharray="26 17 0.01 18"/>
<path d="M1605 255.5L1609 256L1620 247L1626 247" stroke="#000000"/>
<path d="M1626 247L1706 247" stroke="#000000" stroke-dasharray="26 17 0.01 18"/>
<path d="M1706 247L1746 247" stroke="#000000"/>
</g>
<g transform="matrix(0.92 0 0 1 12 0)">
<text font-family="Liberation Serif, Times New Roman, serif" font-size="56" fill="#000"><tspan x="43.7 73.4 105.5 135.9 165.2 196.9" y="74.8 74.8 74.8 74.8 74.8 74.8">2.0x10</tspan><tspan font-size="37" x="225.7 248.6" y="51.5 52.2">−2</tspan></text>
<text font-family="Liberation Serif, Times New Roman, serif" font-size="56" fill="#000"><tspan x="11.5 43.7 73.4 105.5 135.9 165.2 196.9" y="467.1 468.1 468.1 468.1 468.1 468.1 468.1">−2.0x10</tspan><tspan font-size="37" x="225.7 248.6" y="444.8 445.5">−2</tspan></text>
<text font-family="Liberation Serif, Times New Roman, serif" font-size="56" fill="#000"><tspan x="11.5 42.7 73.4 105.5 135.9 165.2 196.9" y="663.8 664.8 664.8 664.8 664.8 664.8 664.8">−4.0x10</tspan><tspan font-size="37" x="225.7 248.6" y="641.5 642.2">−2</tspan></text>
<text font-family="Liberation Serif, Times New Roman, serif" font-size="56" fill="#000"><tspan x="11.5 42.7 73.4 105.5 135.9 165.2 196.9" y="860.5 861.5 861.5 861.5 861.5 861.5 861.5">−6.0x10</tspan><tspan font-size="37" x="225.7 248.6" y="838.2 838.9">−2</tspan></text>
<text font-family="Liberation Serif, Times New Roman, serif" font-size="56" fill="#000"><tspan x="11.5 43.2 73.4 105.5 135.9 165.2 196.9" y="1057.1 1058.1 1058.1 1058.1 1058.1 1058.1 1058.1">−8.0x10</tspan><tspan font-size="37" x="225.7 248.6" y="1034.8 1035.5">−2</tspan></text>
<text font-family="Liberation Serif, Times New Roman, serif" font-size="56" fill="#000"><tspan x="11.5 42.2 73.4 105.5 135.9 165.2 196.9" y="1253.8 1254.8 1254.8 1254.8 1254.8 1254.8 1254.8">−1.0x10</tspan><tspan font-size="37" x="225.7 248.1" y="1231.5 1232.2">−1</tspan></text>
<text font-family="Liberation Serif, Times New Roman, serif" font-size="56" fill="#000" x="178.3 208.2 239.3" y="269.3">0.0</text>
</g>
<g transform="matrix(0.92 0 0 1 80 0)">
<text font-family="Liberation Serif, Times New Roman, serif" font-size="56" fill="#000" x="208.3" y="1303">0</text>
<text font-family="Liberation Serif, Times New Roman, serif" font-size="56" fill="#000" x="496.5 527.8 558.7" y="1303">500</text>
<text font-family="Liberation Serif, Times New Roman, serif" font-size="56" fill="#000" x="800.1 832 862.8 893.7" y="1303">1000</text>
<text font-family="Liberation Serif, Times New Roman, serif" font-size="56" fill="#000" x="1119.7 1151 1182.4 1213.3" y="1303">1500</text>
<text font-family="Liberation Serif, Times New Roman, serif" font-size="56" fill="#000" x="1440.7 1471.1 1502 1532.8" y="1303">2000</text>
<text font-family="Liberation Serif, Times New Roman, serif" font-size="56" fill="#000" x="1760.3 1790.2 1821.5 1852.4" y="1303">2500</text>
</g>
<text font-family="Liberation Serif, Times New Roman, serif" font-size="68" fill="#000" y="1374.3" xml:space="preserve"><tspan font-style="italic" x="953">t</tspan><tspan x="971.9 988.9 1011 1035.9"> (s)</tspan></text>
<text font-family="Liberation Serif, Times New Roman, serif" fill="#000" transform="translate(123 286.5) rotate(-90)"><tspan font-style="italic" font-size="72" x="0" y="0">C</tspan><tspan font-style="italic" font-size="47" x="43.5" y="17">L</tspan></text>
<g fill="none" stroke-width="7" stroke-linecap="round">
<path d="M1132.5 741.4H1245.5" stroke="#FF0000"/>
<path d="M1132.5 804.3H1245.5" stroke="#0000FF" stroke-dasharray="14 12 1 13"/>
<path d="M1132.5 867.1H1245.5" stroke="#FF00FF" stroke-dasharray="18 17 1 16 1 18"/>
<path d="M1132.5 930H1245.5" stroke="#FF8000" stroke-dasharray="18 17 1 16 1 18"/>
<path d="M1132.5 992.8H1245.5" stroke="#A0A0A0" stroke-dasharray="20.5 29.5"/>
<path d="M1132.5 1055.7H1245.5" stroke="#00FF00" stroke-dasharray="18 17 1 16 1 18"/>
<path d="M1132.5 1118.6H1245.5" stroke="#00FFFF" stroke-dasharray="20.5 29.5"/>
<path d="M1132.5 1181.4H1245.5" stroke="#000000" stroke-dasharray="26 17 0.01 18"/>
</g>
<text font-family="Liberation Serif, Times New Roman, serif" font-size="50" fill="#000" x="1259.6" y="759.2">SUBOFF-AFF1-Case1</text>
<text font-family="Liberation Serif, Times New Roman, serif" font-size="50" fill="#000" x="1259.6" y="821.9">SUBOFF-AFF1-Case2</text>
<text font-family="Liberation Serif, Times New Roman, serif" font-size="50" fill="#000" x="1259.6" y="884.6">SUBOFF-AFF1-Case3</text>
<text font-family="Liberation Serif, Times New Roman, serif" font-size="50" fill="#000" x="1259.6" y="947.3">SUBOFF-AFF1-Case4</text>
<text font-family="Liberation Serif, Times New Roman, serif" font-size="50" fill="#000" x="1259.6" y="1010">SUBOFF-AFF8-Case1</text>
<text font-family="Liberation Serif, Times New Roman, serif" font-size="50" fill="#000" x="1259.6" y="1072.7">SUBOFF-AFF8-Case2</text>
<text font-family="Liberation Serif, Times New Roman, serif" font-size="50" fill="#000" x="1259.6" y="1135.4">SUBOFF-AFF8-Case3</text>
<text font-family="Liberation Serif, Times New Roman, serif" font-size="50" fill="#000" x="1259.6" y="1198.1">SUBOFF-AFF8-Case4</text>
</svg></body></html>
